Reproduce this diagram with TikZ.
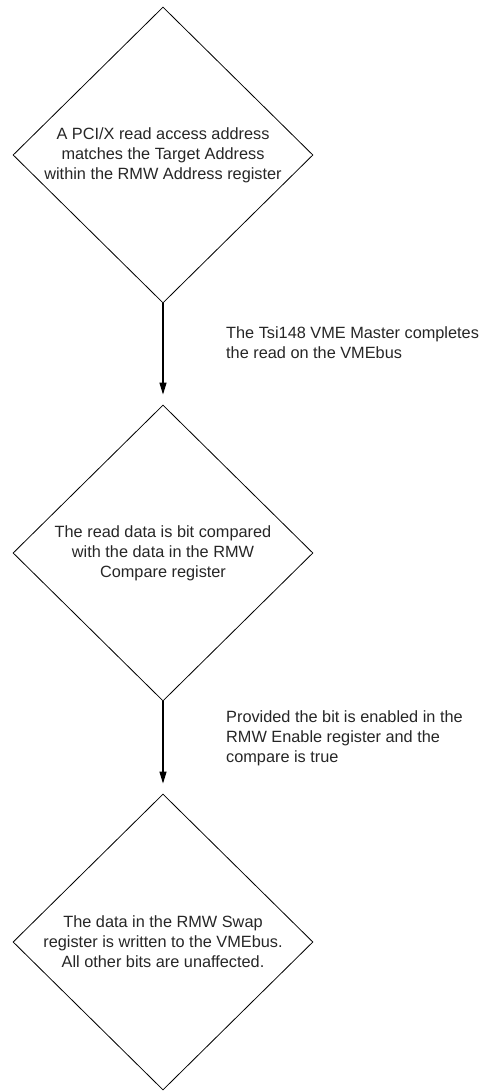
\documentclass[tikz,border=0pt]{standalone}
\usepackage{fontspec}
\setmainfont{Liberation Sans}
\usetikzlibrary{shapes.geometric,arrows.meta}

\begin{document}
\begin{tikzpicture}[x=1pt,y=-1pt,
  decision/.style={diamond,draw,line width=0.8pt,aspect=1,inner sep=0pt,
    minimum width=300pt,minimum height=296pt,align=center,
    font=\fontsize{16.3}{20}\selectfont,text=black!85},
  flow/.style={-{Triangle[length=12pt,width=7pt]},line width=1.2pt,shorten >=10pt},
  note/.style={anchor=north west,align=left,inner sep=0pt,
    font=\fontsize{16.3}{20}\selectfont,text=black!85}]
\useasboundingbox (0,0) rectangle (486,1091);
% the three steps
\node[decision] (match) at (163,155) {A PCI/X read access address\\
  matches the Target Address\\ within the RMW Address register};
\node[decision] (compare) at (163,553) {The read data is bit compared\\
  with the data in the RMW\\ Compare register};
\node[decision] (swap) at (163,942) {The data in the RMW Swap\\
  register is written to the VMEbus.\\ All other bits are unaffected.};
% arrows
\draw[flow] (match.south) -- (compare.north);
\draw[flow] (compare.south) -- (swap.north);
% notes beside the arrows
\node[note] (readnote) at (226,326) {The Tsi148 VME Master completes\\
  the read on the VMEbus};
\node[note] (enablenote) at (226,710) {Provided the bit is enabled in the\\
  RMW Enable register and the\\ compare is true};
\end{tikzpicture}
\end{document}
